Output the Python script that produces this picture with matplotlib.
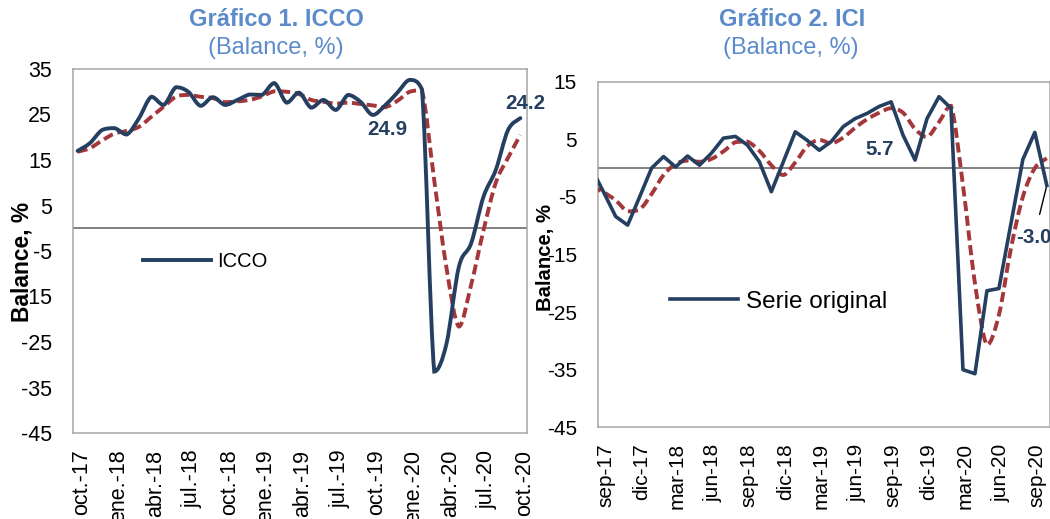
import numpy as np
import matplotlib
matplotlib.use('Agg')
import matplotlib.pyplot as plt
import matplotlib.transforms as mtransforms
from matplotlib.path import Path
from matplotlib.patches import PathPatch
from matplotlib.lines import Line2D

plt.rcParams['font.family'] = ['Liberation Sans', 'DejaVu Sans']
plt.rcParams['axes.unicode_minus'] = False

# Gráfico 1: ICCO, oct-17 .. oct-20
icco = [17.0, 18.7, 21.6, 22.0, 20.6, 24.2, 28.9, 27.1, 31.0, 30.0, 26.9, 28.8,
        27.1, 28.2, 29.4, 29.3, 31.9, 27.6, 29.8, 26.5, 28.2, 26.0, 29.3, 27.8,
        24.9, 27.0, 29.8, 32.6, 30.5, -31.5, -25.3, -8.5, -3.3, 6.9, 12.8, 21.6, 24.2]
icco_mm = [16.8, 17.6, 19.3, 20.8, 21.4, 22.3, 24.5, 26.7, 28.9, 29.3, 28.9, 28.6,
           27.7, 27.9, 28.2, 29.0, 30.1, 30.0, 29.5, 28.2, 27.8, 27.4, 27.6, 27.3,
           27.0, 26.6, 28.0, 30.0, 30.3, 10.5, -8.8, -21.6, -12.4, -0.5, 10.0, 15.5, 20.5]
ticks1 = ['oct.-17', 'ene.-18', 'abr.-18', 'jul.-18', 'oct.-18', 'ene.-19', 'abr.-19',
          'jul.-19', 'oct.-19', 'ene.-20', 'abr.-20', 'jul.-20', 'oct.-20']

# Gráfico 2: ICI, ago-17 .. oct-20 (ago-17 queda fuera del eje)
ici = [-0.1, -4.2, -8.4, -9.9, -5.0, 0.0, 2.0, 0.2, 2.1, 0.5, 2.6, 5.2, 5.5,
       4.0, 1.1, -4.1, 1.1, 6.3, 4.8, 3.1, 4.6, 7.2, 8.6, 9.5, 10.7, 11.5,
       5.7, 1.4, 8.6, 12.4, 10.4, -35.0, -35.7, -21.3, -20.9, -9.7, 1.5, 6.2, -3.0]
ici_mm = [-3.2, -4.2, -5.6, -7.5, -7.2, -4.5, -1.2, 0.7, 1.3, 1.1, 1.6, 2.9, 4.5,
          4.6, 3.0, 0.5, -1.2, 1.0, 3.8, 4.9, 4.3, 5.3, 7.0, 8.5, 9.6, 10.4,
          9.6, 6.8, 5.4, 8.0, 10.8, -3.0, -20.0, -30.7, -25.5, -14.0, -5.0, 0.0, 1.7]
ticks2 = ['sep-17', 'dic-17', 'mar-18', 'jun-18', 'sep-18', 'dic-18', 'mar-19',
          'jun-19', 'sep-19', 'dic-19', 'mar-20', 'jun-20', 'sep-20']

navy = '#243F60'
red = '#A5373B'
title_col = '#5B8BCB'
grey = '#A6A6A6'


def smooth_path(x, y):
    # curva suavizada tipo Excel, sin pasarse de los puntos
    pts = np.column_stack([x, y]).astype(float)
    n = len(pts)
    verts = [pts[0]]
    codes = [Path.MOVETO]
    for i in range(n - 1):
        p0 = pts[i - 1] if i > 0 else pts[i]
        p1 = pts[i]
        p2 = pts[i + 1]
        p3 = pts[i + 2] if i + 2 < n else pts[i + 1]
        c1 = p1 + (p2 - p0) / 6
        c2 = p2 - (p3 - p1) / 6
        lo, hi = min(p1[1], p2[1]), max(p1[1], p2[1])
        c1[1] = np.clip(c1[1], lo, hi)
        c2[1] = np.clip(c2[1], lo, hi)
        verts += [c1, c2, p2]
        codes += [Path.CURVE4] * 3
    return Path(verts, codes)


fig = plt.figure(figsize=(10.5, 5.19), dpi=100)
ax1 = fig.add_axes([73 / 1050, 86 / 519, 454 / 1050, 364 / 519])
ax2 = fig.add_axes([598.3 / 1050, 91.7 / 519, 451.5 / 1050, 345.6 / 519])

dashes = (0, (2.6, 1.2))

# --- Gráfico 1
x1 = np.arange(len(icco))
ax1.add_patch(PathPatch(smooth_path(x1, icco_mm), fill=False, edgecolor=red,
                        lw=2.8, linestyle=dashes, zorder=3))
ax1.add_patch(PathPatch(smooth_path(x1, icco), fill=False, edgecolor=navy,
                        lw=2.8, capstyle='round', zorder=4))
ax1.axhline(0, color='#808080', lw=1.4, zorder=2)
ax1.set_xlim(-0.37, 36.54)
ax1.set_ylim(-45, 35)
ax1.set_yticks(np.arange(-45, 36, 10))
ax1.set_xticks(np.arange(0, 37, 3))
ax1.set_xticklabels(ticks1, rotation=90, va='top', ha='center')
ax1.tick_params(axis='both', length=0, labelsize=15.5)
ax1.tick_params(axis='y', pad=15)
ax1.tick_params(axis='x', pad=12)
ax1.set_ylabel('Balance, %', fontsize=16.4, fontweight='bold', labelpad=0)
ax1.yaxis.set_label_coords(-0.088, 0.47)
ax1.legend(handles=[Line2D([], [], color=navy, lw=2.8)], labels=['ICCO'],
           loc='center left', bbox_to_anchor=(0.154, 0.471), frameon=False,
           borderpad=0, borderaxespad=0, handlelength=3.4, handletextpad=0.3,
           fontsize=14.5)
ax1.annotate('24.9', xy=(24, icco[24]), xytext=(10.3, -10.8), textcoords='offset points',
             ha='center', va='center', fontsize=14.8, fontweight='bold', color=navy)
ax1.annotate('24.2', xy=(36, icco[36]), xytext=(3.4, 10.8), textcoords='offset points',
             ha='center', va='center', fontsize=14.8, fontweight='bold', color=navy,
             annotation_clip=False)

# --- Gráfico 2
x2 = np.arange(-1, len(ici) - 1)
ax2.add_patch(PathPatch(smooth_path(x2, ici_mm), fill=False, edgecolor=red,
                        lw=2.8, linestyle=dashes, zorder=3))
ax2.plot(x2, ici, color=navy, lw=2.6, zorder=4, label='Serie original')
ax2.axhline(0, color='#808080', lw=1.4, zorder=2)
ax2.set_xlim(-0.45, 37.25)
ax2.set_ylim(-45, 15)
ax2.set_yticks(np.arange(-45, 16, 10))
ax2.set_xticks(np.arange(0, 37, 3))
ax2.set_xticklabels(ticks2, rotation=90, va='top', ha='center')
ax2.tick_params(axis='both', length=0, labelsize=15)
ax2.tick_params(axis='y', pad=15.5)
ax2.tick_params(axis='x', pad=11.5)
ax2.set_ylabel('Balance, %', fontsize=14.6, fontweight='bold', labelpad=0)
ax2.yaxis.set_label_coords(-0.096, 0.49)
ax2.legend(loc='center left', bbox_to_anchor=(0.159, 0.363), frameon=False,
           borderpad=0, borderaxespad=0, handlelength=2.8, handletextpad=0.33,
           fontsize=17.5)
ax2.annotate('5.7', xy=(25, ici[26]), xytext=(-17.2, -9.9), textcoords='offset points',
             ha='center', va='center', fontsize=14.8, fontweight='bold', color=navy)
ax2.annotate('-3.0', xy=(37, ici[38]), xytext=(-9.3, -37.5), textcoords='offset points',
             ha='center', va='center', fontsize=14.8, fontweight='bold', color=navy,
             annotation_clip=False,
             arrowprops=dict(arrowstyle='-', color='black', lw=1.0, shrinkA=8, shrinkB=0))

for ax, dx in ((ax1, 4), (ax2, 2)):
    for sp in ax.spines.values():
        sp.set_color(grey)
        sp.set_linewidth(1.1)
    off = mtransforms.ScaledTranslation(dx / 100, 0, fig.dpi_scale_trans)
    for lbl in ax.get_xticklabels():
        lbl.set_transform(lbl.get_transform() + off)

# títulos
fig.text(276 / 1050, 1 - 19.5 / 519, 'Gráfico 1. ICCO', ha='center', va='center',
         fontsize=17, fontweight='bold', color=title_col)
fig.text(276 / 1050, 1 - 48 / 519, '(Balance, %)', ha='center', va='center',
         fontsize=17, color=title_col)
fig.text(792 / 1050, 1 - 19.5 / 519, 'Gráfico 2. ICI', ha='center', va='center',
         fontsize=17, fontweight='bold', color=title_col)
fig.text(791 / 1050, 1 - 48 / 519, '(Balance, %)', ha='center', va='center',
         fontsize=17, color=title_col)

fig.savefig('out.png', dpi=100)
